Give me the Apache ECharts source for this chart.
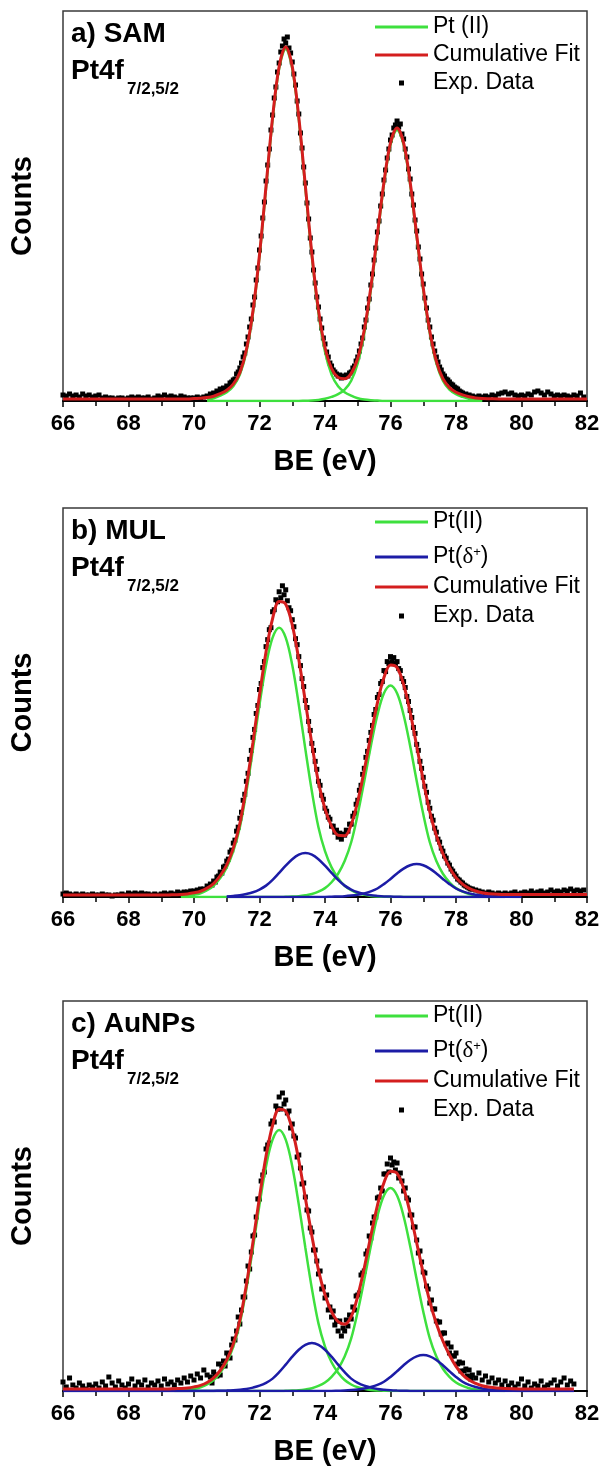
<!DOCTYPE html>
<html>
<head>
<meta charset="utf-8">
<script src="https://cdn.jsdelivr.net/npm/echarts/dist/echarts.min.js"></script>
<style>
html,body{margin:0;padding:0;background:#fff;}
#chart{width:601px;height:1474px;}
</style>
</head>
<body>
<div id="chart"></div>
<script>
const _ = null;

// ---------- x grids (binding energy, eV) ----------
const beRange = [66, 82];
const beTickStep = 2;

// grid of the fitted curves
const beFit = [66.0,66.5,67.0,67.5,68.0,68.5,69.0,
  69.2,69.4,69.6,69.8,70.0,70.2,70.4,70.6,70.8,
  71.0,71.2,71.4,71.6,71.8,72.0,72.2,72.4,72.6,72.8,
  73.0,73.2,73.4,73.6,73.8,74.0,74.2,74.4,74.6,74.8,
  75.0,75.2,75.4,75.6,75.8,76.0,76.2,76.4,76.6,76.8,
  77.0,77.2,77.4,77.6,77.8,78.0,78.2,78.4,78.6,78.8,79.0,
  79.5,80.0,80.5,81.0,81.6,82.0];

// grid of the experimental points
const beExp = [
  66.0,66.1,66.2,66.3,66.4,66.5,66.6,66.7,66.8,66.9,
  67.0,67.1,67.2,67.3,67.4,67.5,67.6,67.7,67.8,67.9,
  68.0,68.1,68.2,68.3,68.4,68.5,68.6,68.7,68.8,68.9,
  69.0,69.1,69.2,69.3,69.4,69.5,69.6,69.7,69.8,69.9,
  70.0,70.1,70.2,70.3,70.4,
  70.5,70.55,70.6,70.65,70.7,70.75,70.8,70.85,70.9,70.95,
  71.0,71.05,71.1,71.15,71.2,71.25,71.3,71.35,71.4,71.45,71.5,71.55,71.6,71.65,71.7,71.75,71.8,71.85,71.9,71.95,
  72.0,72.05,72.1,72.15,72.2,72.25,72.3,72.35,72.4,72.45,72.5,72.55,72.6,72.65,72.7,72.75,72.8,72.85,72.9,72.95,
  73.0,73.05,73.1,73.15,73.2,73.25,73.3,73.35,73.4,73.45,73.5,73.55,73.6,73.65,73.7,73.75,73.8,73.85,73.9,73.95,
  74.0,74.05,74.1,74.15,74.2,74.25,74.3,74.35,74.4,74.45,74.5,74.55,74.6,74.65,74.7,74.75,74.8,74.85,74.9,74.95,
  75.0,75.05,75.1,75.15,75.2,75.25,75.3,75.35,75.4,75.45,75.5,75.55,75.6,75.65,75.7,75.75,75.8,75.85,75.9,75.95,
  76.0,76.05,76.1,76.15,76.2,76.25,76.3,76.35,76.4,76.45,76.5,76.55,76.6,76.65,76.7,76.75,76.8,76.85,76.9,76.95,
  77.0,77.05,77.1,77.15,77.2,77.25,77.3,77.35,77.4,77.45,77.5,77.55,77.6,77.65,77.7,77.75,77.8,77.85,77.9,77.95,
  78.0,78.05,78.1,78.15,78.2,78.25,78.3,78.35,78.4,78.45,78.5,
  78.6,78.7,78.8,78.9,
  79.0,79.1,79.2,79.3,79.4,79.5,79.6,79.7,79.8,79.9,
  80.0,80.1,80.2,80.3,80.4,80.5,80.6,80.7,80.8,80.9,
  81.0,81.1,81.2,81.3,81.4,81.5,81.6,81.7,81.8,81.9];

// ---------- panel a) SAM ----------
const fitA_cum = [2,2,2,2,2,2,2,
  2,2,2,2,2.4,2.7,3.4,4.8,7.3,
  10.8,16.8,28.4,51.3,90,146.3,215,283.6,334.6,354,
  334.6,283.6,215.3,146.8,91.1,53.5,32.5,23.6,22.2,27.6,
  42.7,71.2,113.8,166.4,218.8,258.1,273,258.1,218.8,166,
  113.1,69.8,39.9,22.3,13.4,8.8,6.1,4.2,3.1,2.5,2.3,
  2,2,2,2,2,2];
const fitA_pt2a = [_,_,_,_,_,_,_,
  _,_,_,_,_,_,1.4,2.8,5.3,
  8.8,14.8,26.4,49.3,88,144.3,213,281.6,332.6,352,
  332.6,281.6,213,144.3,88,49.3,26.4,14.8,8.8,5.3,
  2.8,1.4,0.7,0.4,0,0,0,0,0,0,
  0,0,0,0,0,0,0,0,0,0,_,
  _,_,_,_,_,_];
const fitA_pt2b = [_,_,_,_,_,_,_,
  _,_,_,_,_,_,0,0,0,
  0,0,0,0,0,0,0,0,0,0,
  0,0,0.3,0.5,1.1,2.2,4.1,6.8,11.4,20.3,
  37.9,67.8,111.1,164,216.8,256.1,271,256.1,216.8,164,
  111.1,67.8,37.9,20.3,11.4,6.8,4.1,2.2,1.1,0.5,_,
  _,_,_,_,_,_];
const expA = [
  6,5,7,5,6,4,7,5,6,4,
  5,6,3,4,3,3,2,3,3,2,
  3,4,3,4,3,3,4,2,3,5,
  4,6,4,5,4,3,5,4,3,3,
  3,4,3,4,5,
  7,6,8,7,10,9,12,11,13,12,
  15,14,18,19,21,22,27,29,33,38,44,48,57,64,74,82,96,104,121,133,
  151,165,183,199,220,236,252,271,286,303,314,329,338,349,355,362,358,364,353,348,
  339,327,316,300,287,268,253,234,218,198,182,163,149,131,118,104,94,82,73,63,
  57,49,44,38,35,31,29,27,25,26,23,25,24,26,25,28,29,33,35,40,
  44,50,57,63,74,81,93,102,116,127,141,153,169,180,195,207,221,231,243,252,
  261,266,273,276,280,274,277,267,262,252,244,232,222,207,196,181,170,154,142,127,
  117,103,93,81,74,64,57,50,44,39,34,31,27,25,22,21,19,17,16,14,
  13,12,10,9,8,6,7,5,6,4,5,
  4,5,4,5,
  4,6,5,7,8,9,7,8,6,5,
  6,5,7,6,9,10,8,6,9,7,
  5,6,5,6,5,4,6,5,8,4];

// ---------- panel b) MUL ----------
const fitB_cum = [2,2,2,2,2,2,2,
  2,2.3,2.5,3.1,4.2,5.8,8.9,13.5,21.3,
  32.3,49,73.7,110.9,155,202.3,245.9,279.2,296.2,293.6,
  272.8,238,195.9,153.2,115.2,88.3,71,61.9,61.5,72.6,
  96,127.3,161.9,194.6,220,232.5,230,213,185.2,151.4,
  116.9,85.3,61.6,43.4,29.7,19.4,12.9,8.6,6,4.2,3.2,
  2.4,2.5,2.5,2.5,2.5,2.5];
const fitB_pt2a = [_,_,_,_,_,_,_,
  _,_,0.5,1.1,2.2,3.8,6.8,11.3,18.9,
  29.7,45.9,69.9,105.8,148.2,192.8,232.5,260,270,260,
  232.5,192.8,148.2,105.8,69.9,45.9,29.7,18.9,11.3,6.8,
  3.8,2.2,1.1,0.5,0.3,0,0,0,0,0,
  0,0,0,0,0,0,0,0,0,0,0,
  _,_,_,_,_,_];
const fitB_pt2b = [_,_,_,_,_,_,_,
  _,_,0,0,0,0,0,0,0,
  0,0,0,0,0,0,0,0,0,0.2,
  0.4,0.8,1.7,3,5.3,8.9,14.8,23.3,36,54.9,
  83.1,116.4,151.4,182.5,204.2,212,204.2,182.5,151.4,116.4,
  83.1,54.9,36,23.3,14.8,8.9,5.3,3,1.7,0.8,0.4,
  _,_,_,_,_,_];
const fitB_dA = [_,_,_,_,_,_,_,
  _,_,_,_,_,_,_,_,_,
  0.6,1.1,1.8,3.1,4.8,7.5,11.4,17.2,24.2,31.4,
  37.9,42.4,44,42.4,37.9,31.4,24.2,17.2,11.4,7.5,
  4.8,3.1,1.8,1.1,0.6,0.4,0.2,0.1,0,0,
  0,0,0,0,0,0,0,0,0,0,0,
  0,_,_,_,_,_];
const fitB_dB = [_,_,_,_,_,_,_,
  _,_,_,_,_,_,_,_,_,
  0,0,0,0,0,0,0,0,0,0,
  0,0,0,0,0.1,0.1,0.3,0.5,0.8,1.4,
  2.3,3.6,5.6,8.5,12.9,18.1,23.6,28.4,31.8,33,
  31.8,28.4,23.6,18.1,12.9,8.5,5.6,3.6,2.3,1.4,0.8,
  0.2,0,_,_,_,_];
const expB = [
  3,4,3,2,3,2,3,2,2,3,
  2,2,3,2,2,1,2,2,3,2,
  4,3,4,3,4,3,3,2,3,2,
  3,4,3,4,3,5,4,5,5,6,
  6,7,8,8,11,
  13,12,16,15,20,21,25,24,30,31,
  36,38,45,47,54,57,66,70,79,85,97,103,116,124,138,147,160,168,184,192,
  208,214,230,236,251,258,268,270,286,288,298,296,306,300,312,303,308,297,290,287,
  278,271,259,253,241,232,219,211,197,190,176,167,154,147,136,128,116,112,102,98,
  89,86,80,78,71,71,65,67,60,64,58,63,62,67,66,73,73,81,84,93,
  97,107,112,123,129,140,146,157,165,172,183,188,200,203,214,216,227,226,236,234,
  241,236,240,234,236,229,227,219,216,210,201,196,187,180,170,164,153,147,136,129,
  120,111,105,95,89,81,77,69,65,58,55,49,46,41,39,34,32,28,26,23,
  21,18,17,15,14,12,11,10,9,8,8,
  7,6,5,4,
  5,4,3,4,3,4,3,4,5,3,
  4,5,4,6,4,5,6,4,5,7,
  5,6,5,7,6,8,6,7,6,7];

// ---------- panel c) AuNPs ----------
const fitC_cum = [2,2,2,2,2,2,2,
  2,2.3,2.5,3,4.1,5.7,8.5,13.1,20.5,
  31.1,47.1,70.8,106.3,148.7,193.7,234.9,265.7,281.8,279.9,
  261.4,230.5,193.1,155.1,120.9,96.3,79.3,69.3,66.8,74.4,
  95,123.3,155.3,185.4,208.3,219.8,217.7,202.7,178,148.1,
  117.6,89.3,67.5,50,36,24.6,16.4,10.9,7.6,5.3,3.9,
  2.4,2,2,2,2,_];
const fitC_pt2a = [_,_,_,_,_,_,_,
  _,0.3,0.5,1,2.1,3.7,6.5,11,18.3,
  28.7,44.4,67.6,102.3,143.3,186.4,224.7,251.3,261,251.3,
  224.7,186.4,143.3,102.3,67.6,44.4,28.7,18.3,11,6.5,
  3.7,2.1,1,0.5,0.3,0,0,0,0,0,
  0,0,0,0,0,0,0,0,0,0,0,
  _,_,_,_,_,_];
const fitC_pt2b = [_,_,_,_,_,_,_,
  _,0,0,0,0,0,0,0,0,
  0,0,0,0,0,0,0,0,0,0.2,
  0.4,0.8,1.6,2.8,5.1,8.5,14.2,22.3,34.5,52.6,
  79.6,111.4,144.9,174.8,195.5,203,195.5,174.8,144.9,111.4,
  79.6,52.6,34.5,22.3,14.2,8.5,5.1,2.8,1.6,0.8,0.4,
  0,_,_,_,_,_];
const fitC_dA = [0,0,0,0,0,0,0,
  0,0,0,0,0,0,0,0.1,0.2,
  0.4,0.7,1.2,2,3.4,5.3,8.2,12.4,18.8,26.4,
  34.3,41.3,46.2,48,46.2,41.3,34.3,26.4,18.8,12.4,
  8.2,5.3,3.4,2,1.2,0.7,0.4,0.2,0.1,0,
  0,0,0,0,0,0,0,0,0,0,0,
  0,0,0,0,0,_];
const fitC_dB = [0,0,0,0,0,0,0,
  0,0,0,0,0,0,0,0,0,
  0,0,0,0,0,0,0,0,0,0,
  0,0,0,0,0,0.1,0.1,0.3,0.5,0.9,
  1.5,2.5,4,6.1,9.3,14.1,19.8,25.7,31,34.7,
  36,34.7,31,25.7,19.8,14.1,9.3,6.1,4,2.5,1.5,
  0.4,0,0,0,0,_];
const expC = [
  9,4,13,6,3,8,5,2,6,4,
  7,3,9,5,14,8,4,10,6,3,
  7,12,5,9,6,11,4,8,6,10,
  5,12,7,9,6,11,8,13,9,15,
  11,17,13,21,16,
  14,8,19,16,15,27,16,25,30,25,
  38,35,33,46,52,51,60,74,67,81,94,94,110,125,122,139,155,156,174,192,
  192,210,216,219,242,246,248,267,270,269,285,282,294,282,298,287,291,278,280,263,
  267,255,253,234,236,223,207,208,194,181,180,163,159,141,141,130,117,120,102,104,
  93,96,81,84,74,80,66,70,60,70,55,63,60,71,65,76,72,84,81,95,
  96,98,116,118,120,137,140,155,153,168,174,174,193,194,203,200,217,217,227,219,
  233,226,229,221,228,213,218,210,200,203,193,191,176,176,164,164,151,138,140,129,
  119,118,105,102,88,91,82,82,70,69,69,57,58,58,47,48,38,44,35,35,
  38,27,29,20,28,20,22,15,21,12,16,
  13,18,11,15,
  9,13,8,11,6,10,5,8,4,7,
  12,5,9,3,7,5,10,4,6,8,
  11,5,9,13,6,10,7,_,_,_];

// ---------- labels ----------
const panelLabels = ['a) SAM', 'b) MUL', 'c) AuNPs'];
const lineLabel = 'Pt4f';
const lineSub = '7/2,5/2';
const nameCum = 'Cumulative Fit';
const nameExp = 'Exp. Data';
const namePtIIa = 'Pt (II)';
const namePtII = 'Pt(II)';
const nameDelta = 'Pt(δ+)';

// ---------- styling ----------
const FONT = '"Liberation Sans", Arial, Helvetica, sans-serif';
const GREEN = '#3ee03e';
const BLUE = '#1c1ca6';
const RED = '#d41e1e';

const gridTop = [11, 508, 1001];
const gridH = [390, 389, 390];

function pts(xs, ys) {
  const out = [];
  for (let i = 0; i < xs.length; i++) {
    if (ys[i] !== null && ys[i] !== undefined) out.push([xs[i], ys[i]]);
  }
  return out;
}
function fitLine(name, color, width, idx, ys, z) {
  return {
    type: 'line', name: name, xAxisIndex: idx, yAxisIndex: idx,
    data: pts(beFit, ys), symbol: 'none', showSymbol: false, smooth: 0.35,
    color: color, itemStyle: {color: color}, lineStyle: {color: color, width: width},
    z: z, silent: true, emphasis: {disabled: true}, animation: false
  };
}
function expSeries(idx, ys) {
  return {
    type: 'scatter', name: nameExp, xAxisIndex: idx, yAxisIndex: idx,
    data: pts(beExp, ys), symbol: 'rect', symbolSize: 5,
    color: '#000', itemStyle: {color: '#000', opacity: 1}, z: 1, silent: true,
    emphasis: {disabled: true}, animation: false
  };
}

const grids = [], xAxes = [], yAxes = [];
for (let i = 0; i < 3; i++) {
  grids.push({left: 63, width: 524, top: gridTop[i], height: gridH[i],
    show: true, borderColor: '#3a3a3a', borderWidth: 1.5, backgroundColor: 'transparent',
    outerBoundsMode: 'none', containLabel: false});
  xAxes.push({type: 'value', gridIndex: i, min: beRange[0], max: beRange[1], interval: beTickStep,
    name: 'BE (eV)', nameLocation: 'middle', nameGap: 46,
    nameTextStyle: {fontSize: 29, fontWeight: 'bold', color: '#000', fontFamily: FONT},
    axisLine: {show: true, onZero: false, lineStyle: {color: '#000', width: 2}},
    axisTick: {show: true, inside: false, length: 6, lineStyle: {color: '#000', width: 1.5}},
    minorTick: {show: true, splitNumber: 2, length: 5, lineStyle: {color: '#000', width: 1.5}},
    axisLabel: {show: true, fontSize: 22, fontWeight: 'bold', color: '#000', fontFamily: FONT, margin: 12},
    splitLine: {show: false}, minorSplitLine: {show: false}});
  yAxes.push({type: 'value', gridIndex: i, min: 0, max: 390,
    name: 'Counts', nameLocation: 'middle', nameGap: 26, nameRotate: 90,
    nameTextStyle: {fontSize: 29, fontWeight: 'bold', color: '#000', fontFamily: FONT},
    axisLine: {show: false}, axisTick: {show: false}, axisLabel: {show: false},
    splitLine: {show: false}});
}

const series = [
  expSeries(0, expA),
  fitLine(namePtIIa, GREEN, 2.5, 0, fitA_pt2a, 2),
  fitLine(namePtIIa, GREEN, 2.5, 0, fitA_pt2b, 2),
  fitLine(nameCum, RED, 3, 0, fitA_cum, 3),

  expSeries(1, expB),
  fitLine(namePtII, GREEN, 2.5, 1, fitB_pt2a, 2),
  fitLine(namePtII, GREEN, 2.5, 1, fitB_pt2b, 2),
  fitLine(nameDelta, BLUE, 2.5, 1, fitB_dA, 2),
  fitLine(nameDelta, BLUE, 2.5, 1, fitB_dB, 2),
  fitLine(nameCum, RED, 3, 1, fitB_cum, 3),

  expSeries(2, expC),
  fitLine(namePtII, GREEN, 2.5, 2, fitC_pt2a, 2),
  fitLine(namePtII, GREEN, 2.5, 2, fitC_pt2b, 2),
  fitLine(nameDelta, BLUE, 2.5, 2, fitC_dA, 2),
  fitLine(nameDelta, BLUE, 2.5, 2, fitC_dB, 2),
  fitLine(nameCum, RED, 3, 2, fitC_cum, 3)
];

// legend rows (one legend component per row, to match the row spacing)
const legendRows = [
  {name: namePtIIa, cy: 27}, {name: nameCum, cy: 55}, {name: nameExp, cy: 83},
  {name: namePtII, cy: 522}, {name: nameDelta, cy: 557}, {name: nameCum, cy: 587}, {name: nameExp, cy: 616},
  {name: namePtII, cy: 1016}, {name: nameDelta, cy: 1051}, {name: nameCum, cy: 1081}, {name: nameExp, cy: 1110}
];
const legends = legendRows.map(function (r) {
  const isExp = r.name === nameExp;
  const lg = {
    data: [r.name], selectedMode: false, padding: 0, itemGap: 0, icon: 'rect',
    left: isExp ? 399 : 375, top: r.cy - 11.5,
    itemWidth: isExp ? 5 : 53, itemHeight: isExp ? 5 : 3,
    textStyle: {fontSize: 23, color: '#000', fontFamily: FONT,
      rich: {g: {width: 24, fontSize: 23}, d: {fontSize: 23, fontFamily: '"Liberation Serif", "DejaVu Serif", serif', color: '#000'},
             p: {fontSize: 13, verticalAlign: 'top', color: '#000', fontFamily: FONT}}}
  };
  if (isExp) lg.formatter = function () { return '{g|}' + nameExp; };
  if (r.name === nameDelta) lg.formatter = function () { return 'Pt({d|δ}{p|+})'; };
  return lg;
});

// panel titles
const graphics = [];
for (let i = 0; i < 3; i++) {
  const t = gridTop[i];
  graphics.push({type: 'text', x: 71, y: t + 23, silent: true,
    style: {text: panelLabels[i], font: 'bold 28px ' + FONT, fill: '#000', verticalAlign: 'middle', textVerticalAlign: 'middle'}});
  graphics.push({type: 'text', x: 71, y: t + 60, silent: true,
    style: {text: lineLabel, font: 'bold 28px ' + FONT, fill: '#000', verticalAlign: 'middle', textVerticalAlign: 'middle'}});
  graphics.push({type: 'text', x: 127, y: t + 78, silent: true,
    style: {text: lineSub, font: 'bold 17px ' + FONT, fill: '#000', verticalAlign: 'middle', textVerticalAlign: 'middle'}});
}

const chart = echarts.init(document.getElementById('chart'), null, {renderer: 'canvas'});
chart.setOption({
  animation: false,
  backgroundColor: '#fff',
  textStyle: {fontFamily: FONT},
  grid: grids,
  xAxis: xAxes,
  yAxis: yAxes,
  legend: legends,
  graphic: graphics,
  series: series
});
</script>
</body>
</html>
